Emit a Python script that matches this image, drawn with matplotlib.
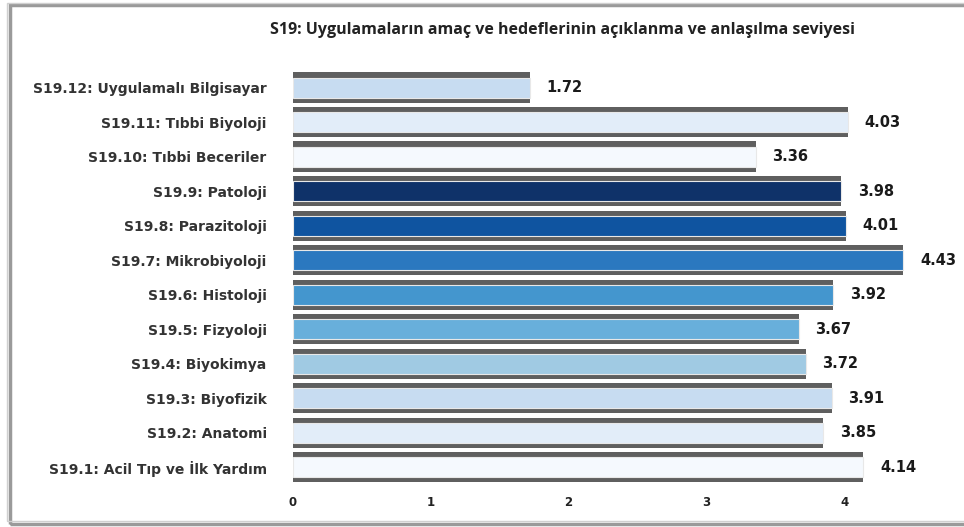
import matplotlib.pyplot as plt
from matplotlib.patches import Rectangle

# data (bottom to top)
labels = ['S19.1: Acil Tıp ve İlk Yardım', 'S19.2: Anatomi', 'S19.3: Biyofizik',
          'S19.4: Biyokimya', 'S19.5: Fizyoloji', 'S19.6: Histoloji',
          'S19.7: Mikrobiyoloji', 'S19.8: Parazitoloji', 'S19.9: Patoloji',
          'S19.10: Tıbbi Beceriler', 'S19.11: Tıbbi Biyoloji', 'S19.12: Uygulamalı Bilgisayar']
values = [4.14, 3.85, 3.91, 3.72, 3.67, 3.92, 4.43, 4.01, 3.98, 3.36, 4.03, 1.72]
colors = ['#F5F9FE', '#E2EDF9', '#C7DCF1', '#A0CAE3', '#68AFDB', '#4496CE',
          '#2B78BF', '#0F54A0', '#0F3269', '#F5F9FE', '#E2EDF9', '#C7DCF1']
title = 'S19: Uygulamaların amaç ve hedeflerinin açıklanma ve anlaşılma seviyesi'

fig = plt.figure(figsize=(9.64, 5.27), dpi=100)
ax = fig.add_axes([0.304, 0.074, 0.686, 0.799])

y = list(range(len(values)))
# gray bevel strips behind each bar, coloured body on top
ax.barh(y, values, height=0.88, color='#5f5f5f', zorder=2)
ax.barh(y, values, height=0.58, color=colors, edgecolor='#e8e8e8', linewidth=0.8, zorder=3)

for yi, v in zip(y, values):
    ax.text(v + 0.12, yi, f'{v:.2f}', va='center', ha='left', fontsize=10.5,
            fontweight='bold', color='#1a1a1a', family='DejaVu Sans')

ax.set_xlim(0, 4.8)
ax.set_ylim(-0.6, len(values) - 0.4)
ax.set_xticks([0, 1, 2, 3, 4])
ax.set_xticklabels(['0', '1', '2', '3', '4'], fontsize=8.5, fontweight='bold', color='#222222')
ax.set_yticks(y)
ax.set_yticklabels(labels, fontsize=10, fontweight='bold', color='#333333')
ax.tick_params(length=0, pad=6)
ax.tick_params(axis='y', pad=19)
for s in ax.spines.values():
    s.set_visible(False)

fig.text(0.584, 0.943, title, ha='center', va='center', fontsize=11.5,
         fontweight='bold', color='#222222', family='Open Sans')

# outer frame with a shadow like the pasted chart
fig.add_artist(Rectangle((0.010, 0.006), 1.2, 0.985, transform=fig.transFigure,
                         fill=False, edgecolor='#9a9a9a', linewidth=2.5))
fig.add_artist(Rectangle((0.007, 0.012), 1.2, 0.982, transform=fig.transFigure,
                         fill=False, edgecolor='#d0d0d0', linewidth=1))

fig.savefig('out.png', dpi=100)
